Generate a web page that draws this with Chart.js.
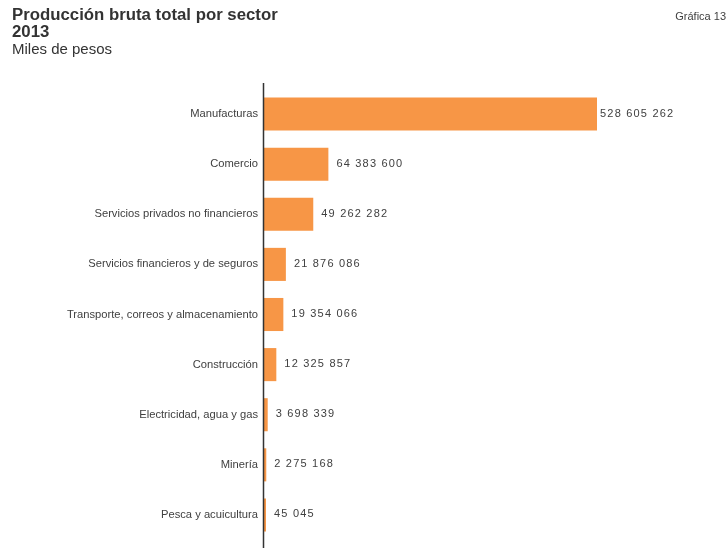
<!DOCTYPE html>
<html lang="es">
<head>
<meta charset="utf-8">
<title>Producción bruta total por sector 2013</title>
<script src="https://cdn.jsdelivr.net/npm/chart.js@4/dist/chart.umd.min.js"></script>
<style>
  html, body { margin: 0; padding: 0; background: #ffffff; }
  #wrap { position: relative; width: 727px; height: 548px; overflow: hidden; font-family: "Liberation Sans", Arial, sans-serif; }
  #chart { position: absolute; left: 0; top: 0; }
  .title { position: absolute; left: 12px; top: 6px; font-weight: bold; font-size: 16.8px; line-height: 17px; color: #333333; }
  .subtitle { position: absolute; left: 12px; top: 41px; font-size: 15px; line-height: 15px; color: #333333; }
  .num { position: absolute; right: 1px; top: 11px; font-size: 11px; line-height: 11px; color: #404040; }
</style>
</head>
<body>
<div id="wrap">
  <canvas id="chart" width="727" height="548"></canvas>
  <div class="title">Producción bruta total por sector<br>2013</div>
  <div class="subtitle">Miles de pesos</div>
  <div class="num">Gráfica 13</div>
</div>
<script>
// Sectors, top to bottom
const categories = [
  'Manufacturas',
  'Comercio',
  'Servicios privados no financieros',
  'Servicios financieros y de seguros',
  'Transporte, correos y almacenamiento',
  'Construcción',
  'Electricidad, agua y gas',
  'Minería',
  'Pesca y acuicultura'
];

// Gross output, thousands of pesos
const values = [528605262, 64383600, 49262282, 21876086, 19354066, 12325857, 3698339, 2275168, 45045];

// Axis is cut here; the largest bar runs to the edge of the plot
const axisMax = 333000000;

const BAR_COLOR = '#F79646';
const TEXT_COLOR = '#404040';

function fmt(v) {
  return String(v).replace(/\B(?=(\d{3})+(?!\d))/g, ' ');
}

// Value labels to the right of each bar, plus the category axis line
const barLabels = {
  id: 'barLabels',
  afterDatasetsDraw(chart) {
    const { ctx, chartArea } = chart;
    const meta = chart.getDatasetMeta(0);
    ctx.save();
    // vertical axis line, a little longer than the plot area
    ctx.strokeStyle = '#333333';
    ctx.lineWidth = 1.5;
    ctx.beginPath();
    ctx.moveTo(chartArea.left - 0.5, 83);
    ctx.lineTo(chartArea.left - 0.5, chart.height);
    ctx.stroke();

    ctx.font = '11px "Liberation Sans", Arial, sans-serif';
    ctx.fillStyle = TEXT_COLOR;
    ctx.textAlign = 'left';
    ctx.textBaseline = 'middle';
    if ('letterSpacing' in ctx) ctx.letterSpacing = '1.2px';
    meta.data.forEach((bar, i) => {
      const clipped = bar.x > chartArea.right;
      const x = Math.min(bar.x, chartArea.right) + (clipped ? 3 : 8);
      ctx.fillText(fmt(values[i]), x, bar.y - 0.5);
    });
    ctx.restore();
  }
};

new Chart(document.getElementById('chart'), {
  type: 'bar',
  data: {
    labels: categories,
    datasets: [{
      data: values,
      backgroundColor: BAR_COLOR,
      borderWidth: 0,
      barPercentage: 0.66,
      categoryPercentage: 1,
      minBarLength: 2
    }]
  },
  options: {
    indexAxis: 'y',
    responsive: false,
    animation: false,
    devicePixelRatio: 1,
    layout: { padding: { top: 89, right: 130, bottom: 8, left: 0 } },
    scales: {
      x: { display: false, min: 0, max: axisMax },
      y: {
        grid: { display: false, drawTicks: false },
        border: { display: false },
        ticks: {
          color: TEXT_COLOR,
          padding: 6,
          autoSkip: false,
          font: { family: '"Liberation Sans", Arial, sans-serif', size: 11.2 }
        },
        afterFit(scale) {
          scale.width = 264;
          scale.paddingTop = 0;
          scale.paddingBottom = 0;
        }
      }
    },
    plugins: {
      legend: { display: false },
      tooltip: { enabled: false },
      title: { display: false }
    }
  },
  plugins: [barLabels]
});
</script>
</body>
</html>
